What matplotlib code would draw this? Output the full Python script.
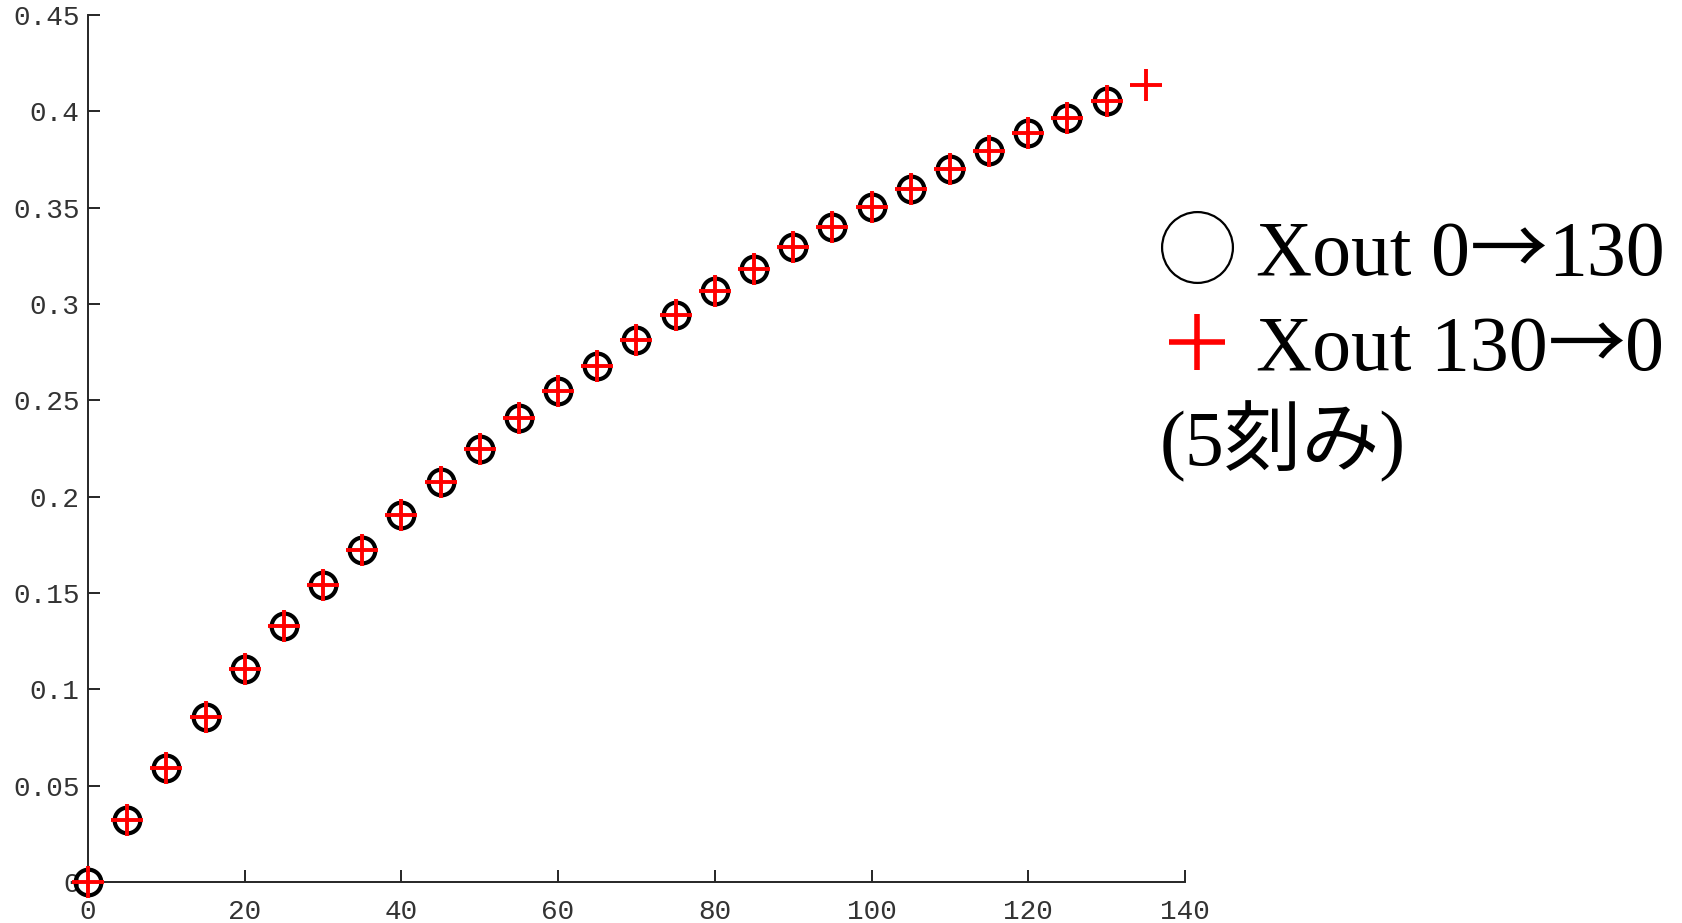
import numpy as np
import matplotlib.pyplot as plt
from matplotlib.lines import Line2D
from matplotlib.ticker import FuncFormatter

# 測定データ (Xout を 5 刻みで変化)
xout_up = [0, 5, 10, 15, 20, 25, 30, 35, 40, 45, 50, 55, 60, 65,
           70, 75, 80, 85, 90, 95, 100, 105, 110, 115, 120, 125, 130]
val_up = [0.0, 0.0322, 0.0593, 0.0858, 0.1106, 0.1329, 0.1541, 0.1723,
          0.1905, 0.2078, 0.2247, 0.2407, 0.2550, 0.2680, 0.2811, 0.2943,
          0.3069, 0.3182, 0.3297, 0.3401, 0.3505, 0.3598, 0.3702, 0.3796,
          0.3886, 0.3964, 0.4055]

xout_down = [0, 5, 10, 15, 20, 25, 30, 35, 40, 45, 50, 55, 60, 65,
             70, 75, 80, 85, 90, 95, 100, 105, 110, 115, 120, 125, 130, 135]
val_down = [0.0, 0.0322, 0.0593, 0.0858, 0.1106, 0.1329, 0.1541, 0.1723,
            0.1905, 0.2078, 0.2247, 0.2407, 0.2550, 0.2680, 0.2811, 0.2943,
            0.3069, 0.3182, 0.3297, 0.3401, 0.3505, 0.3598, 0.3702, 0.3796,
            0.3886, 0.3964, 0.4055, 0.4137]

# 凡例の文字列 (矢印の前後で分割)
label_up = ['Xout 0', '→', '130']
label_down = ['Xout 130', '→', '0']
label_step = '(5刻み)'

axis_color = '#262626'
serif_fonts = ['Liberation Serif', 'Noto Sans CJK JP', 'DejaVu Sans']
arrow_fonts = ['Noto Sans CJK JP', 'DejaVu Sans']

W, H = 1682, 923
fig = plt.figure(figsize=(W / 100, H / 100), dpi=100)
ax = fig.add_axes([0.0523, 0.0444, 0.6522, 0.9393])

ax.plot(xout_up, val_up, linestyle='none', marker='o', markersize=18.5,
        markerfacecolor='none', markeredgecolor='black', markeredgewidth=3.0,
        clip_on=False, zorder=3)
ax.plot(xout_down, val_down, linestyle='none', marker='+', markersize=23,
        markeredgecolor='red', markeredgewidth=2.8, clip_on=False, zorder=4)

ax.set_xlim(0, 140)
ax.set_ylim(0, 0.45)
ax.set_xticks(np.arange(0, 141, 20))
ax.set_yticks(np.arange(0, 0.451, 0.05))
ax.yaxis.set_major_formatter(FuncFormatter(lambda v, p: '%g' % round(v, 2)))

for side in ['top', 'right']:
    ax.spines[side].set_visible(False)
for side in ['left', 'bottom']:
    ax.spines[side].set_color(axis_color)
    ax.spines[side].set_linewidth(1.4)

ax.tick_params(direction='in', length=8.5, width=1.4, color=axis_color,
               labelcolor='#333333', labelsize=20)
ax.tick_params(axis='y', pad=6)
ax.tick_params(axis='x', pad=12.5)
for lbl in ax.get_xticklabels() + ax.get_yticklabels():
    lbl.set_family('Liberation Mono')

# 凡例 (手書き配置)
fig.add_artist(Line2D([1196.7 / W], [1 - 246.7 / H], marker='o',
                      markersize=51, markerfacecolor='none',
                      markeredgecolor='black', markeredgewidth=1.6,
                      transform=fig.transFigure))
fig.add_artist(Line2D([1197 / W], [1 - 342 / H], marker='+',
                      markersize=40, markeredgecolor='red',
                      markeredgewidth=4, transform=fig.transFigure))

renderer = fig.canvas.get_renderer()


def put_label(parts, x_px, base_px):
    x = x_px
    for s in parts:
        fam = arrow_fonts if s == '→' else serif_fonts
        t = fig.text(x / W, 1 - base_px / H, s, family=fam, fontsize=56,
                     va='baseline', ha='left')
        x += t.get_window_extent(renderer).width


put_label(label_up, 1256, 275)
put_label(label_down, 1256, 370)
fig.text(1160 / W, 1 - 465 / H, label_step, family=serif_fonts,
         fontsize=56, va='baseline', ha='left')

fig.savefig('out.png', dpi=100, facecolor='white')
